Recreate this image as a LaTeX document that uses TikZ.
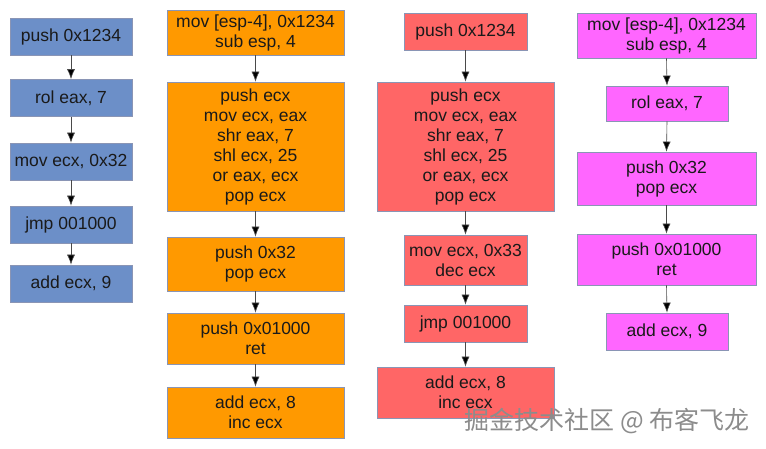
\documentclass[tikz,border=0pt]{standalone}
\usepackage{fontspec}
\setmainfont{Liberation Sans}
\newfontfamily\cjk{Noto Sans CJK SC}
\usetikzlibrary{arrows.meta}
\definecolor{cblue}{HTML}{6C8FC8}
\definecolor{corange}{HTML}{FF9900}
\definecolor{cred}{HTML}{FF6666}
\definecolor{cmag}{HTML}{FF66FF}
\definecolor{cborder}{HTML}{8A95B5}
\definecolor{ctext}{HTML}{1A1A1A}
\definecolor{cline}{HTML}{4A4A4A}
\tikzset{
  bx/.style={draw=cborder, line width=0.7pt, inner sep=0pt, align=center,
    text=ctext, font=\fontsize{17.5}{20}\selectfont},
  bb/.style={bx, fill=cblue, minimum width=122pt, minimum height=37pt},
  ob/.style={bx, fill=corange, minimum width=177pt},
  rw/.style={bx, fill=cred, minimum width=177pt},
  rn/.style={bx, fill=cred, minimum width=123pt},
  mw/.style={bx, fill=cmag, minimum width=179pt},
  mn/.style={bx, fill=cmag, minimum width=122pt},
  arr/.style={draw=cline, line width=0.6pt, -{Latex[length=10pt,width=8pt,fill=black]}},
}
\begin{document}
\begin{tikzpicture}[x=1pt,y=-1pt]
\useasboundingbox (0,0) rectangle (766,448);
% column 1
\node[bb] (a1) at (71,36.5) {push 0x1234};
\node[bb] (a2) at (71,98) {rol eax, 7};
\node[bb] (a3) at (71,161.5) {mov ecx, 0x32};
\node[bb] (a4) at (71,224.5) {jmp 001000};
\node[bb] (a5) at (71,283.5) {add ecx, 9};
% column 2
\node[ob, minimum height=45pt] (b1) at (255.5,32.5) {mov [esp-4], 0x1234\\sub esp, 4};
\node[ob, minimum height=129pt] (b2) at (255.5,146.5) {push ecx\\mov ecx, eax\\shr eax, 7\\shl ecx, 25\\or eax, ecx\\pop ecx};
\node[ob, minimum height=54pt] (b3) at (255.5,264) {push 0x32\\pop ecx};
\node[ob, minimum height=51pt] (b4) at (255.5,338.5) {push 0x01000\\ret};
\node[ob, minimum height=51pt] (b5) at (255.5,412.5) {add ecx, 8\\inc ecx};
% column 3
\node[rn, minimum height=37pt] (c1) at (465.5,31.5) {push 0x1234};
\node[rw, minimum height=129pt] (c2) at (465.5,146.5) {push ecx\\mov ecx, eax\\shr eax, 7\\shl ecx, 25\\or eax, ecx\\pop ecx};
\node[rn, minimum height=50pt] (c3) at (465.5,260) {mov ecx, 0x33\\dec ecx};
\node[rn, minimum height=37pt] (c4) at (465.5,323.5) {jmp 001000};
\node[rw, minimum height=51pt] (c5) at (465.5,392.5) {add ecx, 8\\inc ecx};
% column 4
\node[mw, minimum height=45pt] (d1) at (666.5,35.5) {mov [esp-4], 0x1234\\sub esp, 4};
\node[mn, minimum height=35pt] (d2) at (667,103.5) {rol eax, 7};
\node[mw, minimum height=53pt] (d3) at (666.5,178.5) {push 0x32\\pop ecx};
\node[mw, minimum height=51pt] (d4) at (666.5,259.5) {push 0x01000\\ret};
\node[mn, minimum height=37pt] (d5) at (667,331.5) {add ecx, 9};
% arrows
\foreach \p/\q in {a1/a2,a2/a3,a3/a4,a4/a5,b1/b2,b2/b3,b3/b4,b4/b5,c1/c2,c2/c3,c3/c4,c4/c5,d1/d2,d2/d3,d3/d4,d4/d5}
  \draw[arr] (\p.south) -- (\q.north);
% watermark
\node[text=black!45, font=\cjk\fontsize{25}{25}\selectfont, inner sep=0pt] (wm) at (607,421) {掘金技术社区 @ 布客飞龙};
\end{tikzpicture}
\end{document}
